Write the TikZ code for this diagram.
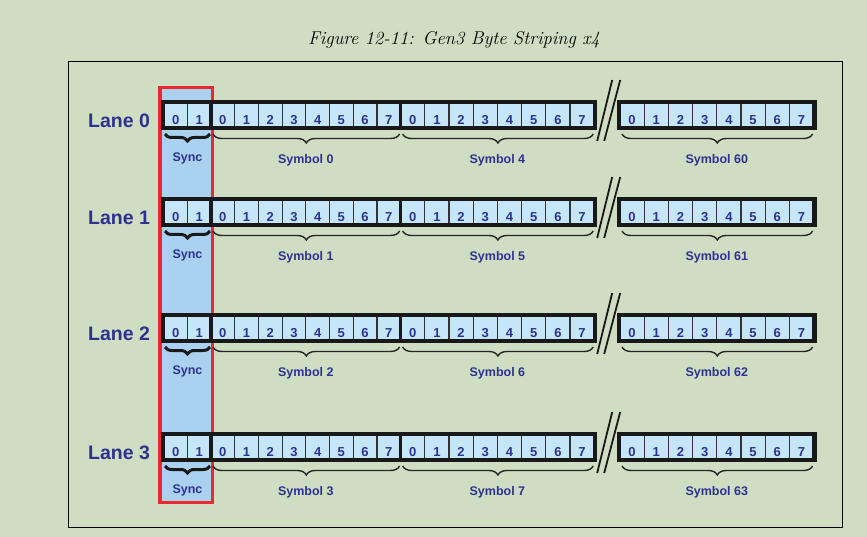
\documentclass[tikz,border=0pt]{standalone}
\usepackage{fontspec}
\setsansfont{Liberation Sans}
\usetikzlibrary{positioning, calc, fit, decorations.pathreplacing}

\definecolor{bggreen}{RGB}{207,222,194}
\definecolor{cellblue}{RGB}{196,230,248}
\definecolor{syncblue}{RGB}{170,210,240}
\definecolor{lanenavy}{RGB}{46,49,146}
\definecolor{syncred}{RGB}{234,42,42}

\tikzset{
  bytecell/.style={
    rectangle, draw=black!80, fill=cellblue, line width=1.2pt,
    minimum width=#1, minimum height=24pt, inner sep=0pt, outer sep=0pt,
    text height=18.5pt, text depth=0pt, text=lanenavy,
    font=\fontsize{13}{14}\selectfont\sffamily\bfseries,
  },
  bytecell/.default=24pt,
  rowframe/.style={
    rectangle, draw=black!90, line width=4.5pt, inner sep=1pt,
  },
  rowsep/.style={
    draw=black!90, line width=3.5pt,
  },
  lanelabel/.style={
    font=\fontsize{19.5}{22}\selectfont\sffamily\bfseries, text=lanenavy,
  },
  symlabel/.style={
    font=\fontsize{12.5}{14}\selectfont\sffamily\bfseries, text=lanenavy,
  },
  symbrace/.style={
    draw=black!85, line width=1.4pt,
    decorate, decoration={brace, amplitude=9pt, raise=7pt},
  },
  syncbrace/.style={
    draw=black!90, line width=3pt,
    decorate, decoration={brace, amplitude=7pt, raise=7pt},
  },
  breakmark/.style={
    draw=black!90, line width=1.8pt,
  },
}

\begin{document}
\begin{tikzpicture}[x=1pt, y=-1pt]

  \fill[bggreen] (0,0) rectangle (867,537);
  \useasboundingbox (0,0) rectangle (867,537);

  \node[font=\fontsize{18.5}{20}\selectfont\itshape] (title) at (454,40)
    {Figure 12-11: Gen3 Byte Striping x4};

  \draw[line width=1pt] (68,62) rectangle (842,527);

  % sync column
  \fill[syncblue] (160,88) rectangle (212,502);
  \draw[syncred, line width=3.5pt] (159.75,87.75) rectangle (212.25,502.25);

  \foreach \ln/\cy/\sa/\sb/\sc in {0/115/0/4/60, 1/212/1/5/61,
                                    2/328/2/6/62, 3/447/3/7/63} {

    \node[lanelabel] (lane\ln) at (119,\cy+6) {Lane \ln};

    \foreach \i in {0,1}
      \node[bytecell=23.5pt] (l\ln s\i) at (164+23.5*\i+11.75,\cy) {\i};
    \foreach \i in {0,...,7} {
      \node[bytecell=23.7pt] (l\ln a\i) at (211+23.7*\i+11.85,\cy) {\i};
      \node[bytecell=24.2pt] (l\ln b\i) at (400.6+24.2*\i+12.1,\cy) {\i};
      \node[bytecell=24.2pt] (l\ln c\i) at (620+24.2*\i+12.1,\cy) {\i};
    }

    \node[rowframe, fit=(l\ln s0)(l\ln b7)] (l\ln fa) {};
    \node[rowframe, fit=(l\ln c0)(l\ln c7)] (l\ln fb) {};
    \draw[rowsep] (l\ln s1.north east) -- (l\ln s1.south east);
    \draw[rowsep] (l\ln a7.north east) -- (l\ln a7.south east);

    \draw[syncbrace] ($(l\ln s1.south east)+(-1,0)$) -- ($(l\ln s0.south west)+(1,0)$);
    \draw[symbrace] ($(l\ln a7.south east)+(-1,0)$) -- ($(l\ln a0.south west)+(2,0)$);
    \draw[symbrace] ($(l\ln b7.south east)+(-1,0)$) -- ($(l\ln b0.south west)+(2,0)$);
    \draw[symbrace] ($(l\ln c7.south east)+(-1,0)$) -- ($(l\ln c0.south west)+(2,0)$);

    \node[symlabel] (l\ln sync) at ($(l\ln s0.south east)+(0,31)$) {Sync};
    \node[symlabel] (l\ln syma) at ($(l\ln a3.south east)+(0,33)$) {Symbol \sa};
    \node[symlabel] (l\ln symb) at ($(l\ln b3.south east)+(0,33)$) {Symbol \sb};
    \node[symlabel] (l\ln symc) at ($(l\ln c3.south east)+(0,33)$) {Symbol \sc};

    \draw[breakmark] ($(l\ln b7.south east)+(3,14)$) -- ++(15,-61);
    \draw[breakmark] ($(l\ln b7.south east)+(10,14)$) -- ++(16,-61);
  }

\end{tikzpicture}
\end{document}
